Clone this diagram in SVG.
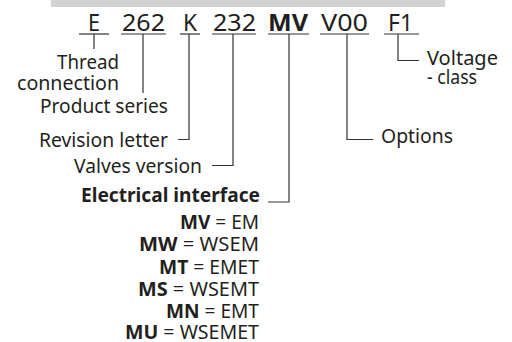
<svg xmlns="http://www.w3.org/2000/svg" width="512" height="342" viewBox="0 0 512 342">
<style>
text{font-family:"Noto Sans","Open Sans","DejaVu Sans",sans-serif;fill:#231f20}
.code{font-size:24px}
.lbl{font-size:20px}
.row{font-size:19px}
.b{font-weight:bold}
.ul{stroke:#333;stroke-width:1.2;fill:none}
.con path{stroke:#333;stroke-width:1.2;fill:none}
</style>
<rect x="51" y="0" width="394" height="7" fill="#d1d2d4"/>
<g id="code">
<g id="c-E"><text class="code" x="88" y="30.5" textLength="12" lengthAdjust="spacingAndGlyphs">E</text><line class="ul" x1="79" y1="34" x2="109" y2="34"/></g>
<g id="c-262"><text class="code" x="122" y="30.5" textLength="43" lengthAdjust="spacingAndGlyphs">262</text><line class="ul" x1="121" y1="34" x2="166" y2="34"/></g>
<g id="c-K"><text class="code" x="183" y="30.5" textLength="14" lengthAdjust="spacingAndGlyphs">K</text><line class="ul" x1="180" y1="34" x2="200" y2="34"/></g>
<g id="c-232"><text class="code" x="213" y="30.5" textLength="43" lengthAdjust="spacingAndGlyphs">232</text><line class="ul" x1="212" y1="34" x2="256" y2="34"/></g>
<g id="c-MV"><text class="code b" x="268" y="30.5" textLength="40" lengthAdjust="spacingAndGlyphs">MV</text><line class="ul" x1="268" y1="34" x2="309" y2="34"/></g>
<g id="c-V00"><text class="code" x="321" y="30.5" textLength="47" lengthAdjust="spacingAndGlyphs">V00</text><line class="ul" x1="320" y1="34" x2="369" y2="34"/></g>
<g id="c-F1"><text class="code" x="388" y="30.5" textLength="25" lengthAdjust="spacingAndGlyphs">F1</text><line class="ul" x1="384" y1="34" x2="419" y2="34"/></g>
</g>
<g class="con" id="connectors">
<path d="M94 34V49"/>
<path d="M143 34V93"/>
<path d="M189 34V139.5H178"/>
<path d="M233 34V165.5H212"/>
<path d="M289 34V202H268"/>
<path d="M347 34V139.5H373"/>
<path d="M398 34V60.5H419"/>
</g>
<g id="thread"><text class="lbl" x="57" y="69" textLength="62" lengthAdjust="spacingAndGlyphs">Thread</text><text class="lbl" x="17" y="90" textLength="102" lengthAdjust="spacingAndGlyphs">connection</text></g>
<g id="product"><text class="lbl" x="40" y="113" textLength="128" lengthAdjust="spacingAndGlyphs">Product series</text></g>
<g id="revision"><text class="lbl" x="39" y="147" textLength="129" lengthAdjust="spacingAndGlyphs">Revision letter</text></g>
<g id="valves"><text class="lbl" x="74" y="172.5" textLength="128" lengthAdjust="spacingAndGlyphs">Valves version</text></g>
<g id="electrical">
<text class="row b" x="81" y="201.5" textLength="179" lengthAdjust="spacingAndGlyphs">Electrical interface</text>
<text class="row" x="180" y="228.5" textLength="79" lengthAdjust="spacingAndGlyphs"><tspan class="b">MV</tspan> = EM</text>
<text class="row" x="139" y="251" textLength="120" lengthAdjust="spacingAndGlyphs"><tspan class="b">MW</tspan> = WSEM</text>
<text class="row" x="159" y="273.5" textLength="100" lengthAdjust="spacingAndGlyphs"><tspan class="b">MT</tspan> = EMET</text>
<text class="row" x="138" y="295.5" textLength="121" lengthAdjust="spacingAndGlyphs"><tspan class="b">MS</tspan> = WSEMT</text>
<text class="row" x="166" y="318" textLength="93" lengthAdjust="spacingAndGlyphs"><tspan class="b">MN</tspan> = EMT</text>
<text class="row" x="125" y="339" textLength="134" lengthAdjust="spacingAndGlyphs"><tspan class="b">MU</tspan> = WSEMET</text>
</g>
<g id="options"><text class="lbl" x="381" y="142.5" textLength="72" lengthAdjust="spacingAndGlyphs">Options</text></g>
<g id="voltage"><text class="lbl" x="427" y="65" textLength="71" lengthAdjust="spacingAndGlyphs">Voltage</text><text class="lbl" x="427" y="84" textLength="50" lengthAdjust="spacingAndGlyphs">- class</text></g>
</svg>
